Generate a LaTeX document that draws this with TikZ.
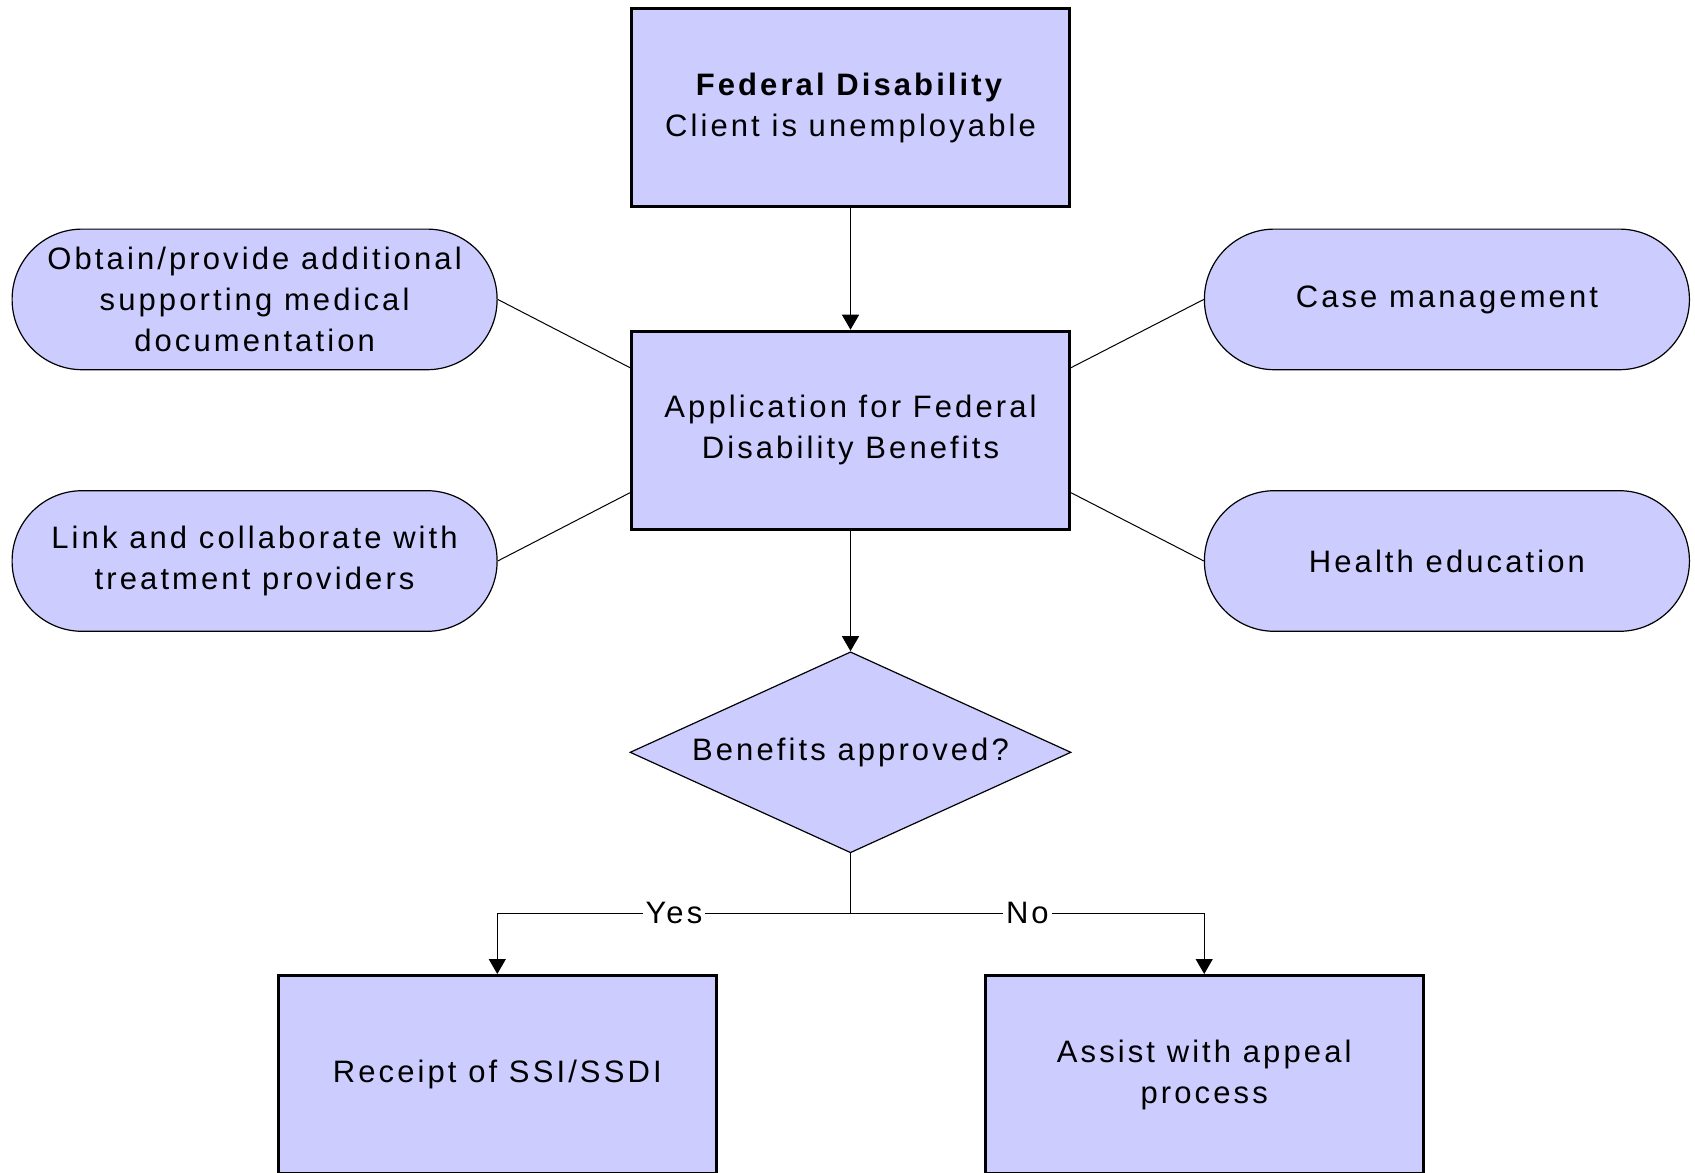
\documentclass[tikz,border=0pt]{standalone}
\usepackage{fontspec}
\setmainfont{Liberation Sans}[LetterSpace=10]
\usetikzlibrary{shapes.geometric,arrows.meta}
\tikzset{>={Triangle[length=7.5pt,width=8.5pt]}}
\definecolor{boxcol}{RGB}{204,204,255}
\tikzstyle{txt}=[font=\fontsize{15.5}{20.5}\selectfont,align=center]
\tikzstyle{process}=[txt,draw,line width=1.5pt,fill=boxcol,
                     minimum width=219pt,minimum height=99pt,inner sep=0]
\tikzstyle{service}=[txt,draw,line width=0.6pt,fill=boxcol,rounded corners=35pt,
                     minimum width=242.5pt,minimum height=70.3pt,inner sep=0]
\tikzstyle{decision}=[txt,diamond,draw,line width=0.6pt,fill=boxcol,aspect=3,
                      minimum width=220.5pt,minimum height=100.5pt,inner sep=0]
\tikzstyle{flow}=[->,line width=0.6pt]
\tikzstyle{link}=[line width=0.5pt]
\tikzstyle{answer}=[txt,fill=white,inner sep=1.5pt]

\begin{document}
\begin{tikzpicture}[x=0.5pt,y=-0.5pt]
  \useasboundingbox (0,0) rectangle (1695,1172);
  \def\off{19pt}

  % MAIN BOXES
  \node[process] (fed) at (850.5,107.6)
    {\textbf{Federal Disability}\\Client is unemployable};
  \node[process] (app) at (850.5,430.2)
    {Application for Federal\\Disability Benefits};
  \node[decision] (dec) at (850.5,752.3) {Benefits approved?};
  \node[process] (yes) at (497.3,1074.5) {Receipt of SSI/SSDI};
  \node[process] (no) at (1204.2,1074.5) {Assist with appeal\\process};

  % SERVICES
  \node[service] (docs) at (254.6,299.4)
    {Obtain/provide additional\\supporting medical\\documentation};
  \node[service] (prov) at (254.6,561.0)
    {Link and collaborate with\\treatment providers};
  \node[service] (case) at (1446.9,299.4) {Case management};
  \node[service] (edu) at (1446.9,561.0) {Health education};

  % LINKS
  \draw[link] (docs.east) -- ([yshift=-\off]app.north west);
  \draw[link] (prov.east) -- ([yshift=\off]app.south west);
  \draw[link] (case.west) -- ([yshift=-\off]app.north east);
  \draw[link] (edu.west) -- ([yshift=\off]app.south east);

  % FLOW
  \coordinate (split) at (850.5,913.4);
  \draw[flow] (fed) -- (app);
  \draw[flow] (app) -- (dec);
  \draw[link] (dec.south) -- (split);
  \draw[flow] (split) -| node[answer,pos=0.25] {Yes} (yes.north);
  \draw[flow] (split) -| node[answer,pos=0.25] {No} (no.north);

\end{tikzpicture}
\end{document}
